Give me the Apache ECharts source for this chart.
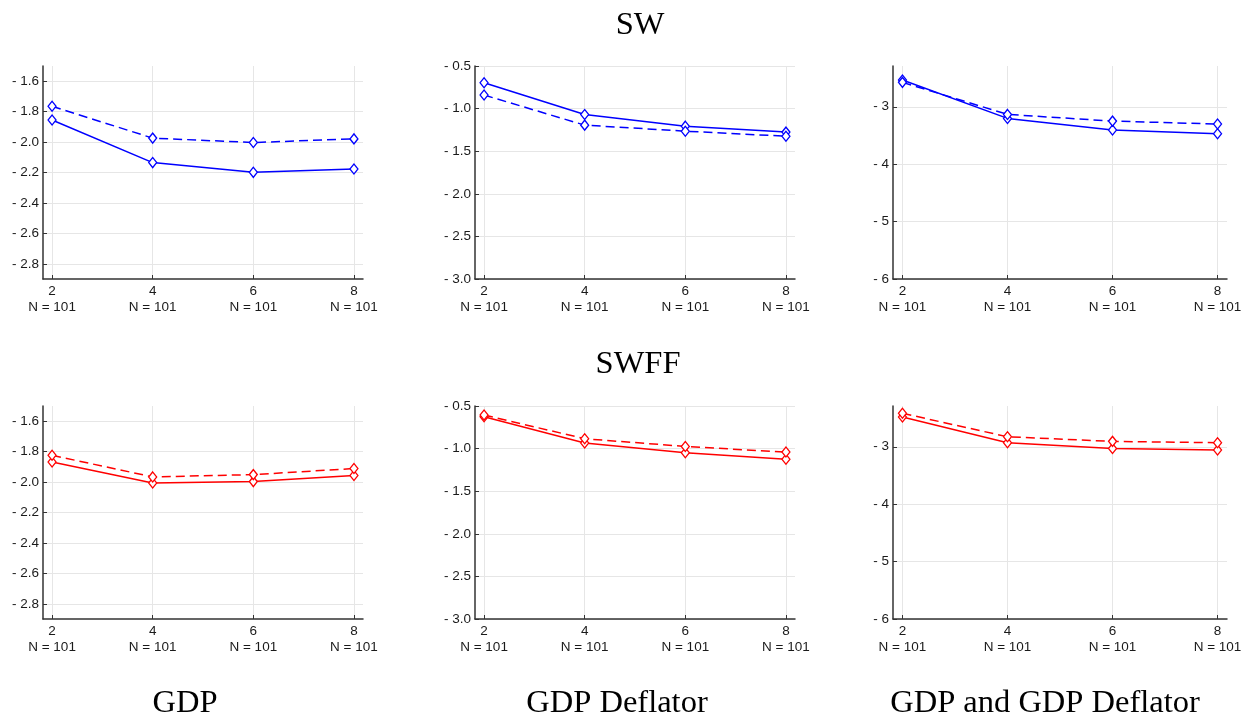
<!DOCTYPE html>
<html><head><meta charset="utf-8">
<script src="https://cdn.jsdelivr.net/npm/echarts@6/dist/echarts.min.js"></script>
<style>html,body{margin:0;padding:0;background:#fff}#c{width:1243px;height:715px}</style>
</head><body><div id="c"></div>
<script>
// ---- data ----
const horizons = [2, 4, 6, 8];
const nLabels = ["N = 101", "N = 101", "N = 101", "N = 101"];
const rowTitles = ["SW", "SWFF"];
const colTitles = ["GDP", "GDP Deflator", "GDP and GDP Deflator"];

// SW row (blue)
const swGdpSolid   = [-1.855, -2.135, -2.199, -2.177];
const swGdpDashed  = [-1.765, -1.974, -2.003, -1.979];
const swDeflSolid  = [-0.696, -1.069, -1.206, -1.276];
const swDeflDashed = [-0.841, -1.194, -1.265, -1.324];
const swBothSolid  = [-2.535, -3.203, -3.406, -3.470];
const swBothDashed = [-2.575, -3.133, -3.250, -3.300];

// SWFF row (red)
const ffGdpSolid   = [-1.868, -2.006, -1.997, -1.957];
const ffGdpDashed  = [-1.824, -1.966, -1.951, -1.911];
const ffDeflSolid  = [-0.626, -0.935, -1.049, -1.124];
const ffDeflDashed = [-0.606, -0.884, -0.975, -1.041];
const ffBothSolid  = [-2.482, -2.930, -3.030, -3.058];
const ffBothDashed = [-2.417, -2.826, -2.906, -2.930];

// tick labels
const yTicksGdp  = [-2.8, -2.6, -2.4, -2.2, -2.0, -1.8, -1.6];
const yTicksDefl = [-3.0, -2.5, -2.0, -1.5, -1.0, -0.5];
const yTicksBoth = [-6, -5, -4, -3];

// ---- layout ----
const colGeom = [
  {left: 43, width: 320},
  {left: 475, width: 320},
  {left: 893, width: 334}
];
const rowGeom = [{top: 66, height: 213}, {top: 406, height: 213}];
const colY = [
  {min: -2.9, max: -1.5, ticks: yTicksGdp, dec: 1},
  {min: -3.0, max: -0.5, ticks: yTicksDefl, dec: 1},
  {min: -6.0, max: -2.29, ticks: yTicksBoth, dec: 0}
];
const rowColors = ["#0000ff", "#ff0000"];
const rowData = [
  [[swGdpSolid, swGdpDashed], [swDeflSolid, swDeflDashed], [swBothSolid, swBothDashed]],
  [[ffGdpSolid, ffGdpDashed], [ffDeflSolid, ffDeflDashed], [ffBothSolid, ffBothDashed]]
];

const axisCol = "#333333";
const gridCol = "#e6e6e6";
const labelFont = "Liberation Sans";

const grids = [], xAxes = [], yAxes = [], series = [];
let gi = 0;
for (let r = 0; r < 2; r++) {
  for (let c = 0; c < 3; c++) {
    grids.push({left: colGeom[c].left, width: colGeom[c].width, top: rowGeom[r].top, height: rowGeom[r].height,
      containLabel: false, outerBoundsMode: 'none'});
    xAxes.push({
      type: 'value', gridIndex: gi, min: 1.82, max: 8.18,
      axisLine: {show: true, onZero: false, lineStyle: {color: axisCol, width: 1.5}},
      axisTick: {show: true, inside: true, length: 4, customValues: horizons, lineStyle: {color: axisCol, width: 1}},
      axisLabel: {show: true, customValues: horizons, margin: 4, fontSize: 13.5, lineHeight: 16.5, color: '#1a1a1a',
        fontFamily: labelFont,
        formatter: v => { const i = horizons.indexOf(Math.round(v)); return Math.round(v) + "\n" + nLabels[i]; }},
      splitLine: {show: true, lineStyle: {color: gridCol, width: 1}}
    });
    const yc = colY[c];
    yAxes.push({
      type: 'value', gridIndex: gi, min: yc.min, max: yc.max,
      axisLine: {show: true, onZero: false, lineStyle: {color: axisCol, width: 1.5}},
      axisTick: {show: true, inside: true, length: 4, customValues: yc.ticks, lineStyle: {color: axisCol, width: 1}},
      axisLabel: {show: true, customValues: yc.ticks, margin: 4, fontSize: 13.5, color: '#1a1a1a', fontFamily: labelFont,
        formatter: v => "- " + Math.abs(v).toFixed(yc.dec)},
      splitLine: {show: true, lineStyle: {color: gridCol, width: 1}}
    });
    const [solid, dashed] = rowData[r][c];
    const col = rowColors[r];
    const mk = (vals, type) => ({
      type: 'line', xAxisIndex: gi, yAxisIndex: gi,
      data: horizons.map((h, i) => [h, vals[i]]),
      symbol: 'diamond', symbolSize: [8, 10], showSymbol: true,
      lineStyle: {color: col, width: 1.5, type: type},
      itemStyle: {color: '#ffffff', borderColor: col, borderWidth: 1.3},
      emphasis: {disabled: true}, animation: false, silent: true
    });
    series.push(mk(solid, 'solid'));
    series.push(mk(dashed, [9, 5]));
    gi++;
  }
}

const titleFont = '32.5px "Liberation Serif", "DejaVu Serif", serif';
const graphics = [
  {type: 'text', x: 640, y: 25, style: {text: rowTitles[0], font: titleFont, fill: '#000', align: 'center', verticalAlign: 'middle'}},
  {type: 'text', x: 638, y: 364, style: {text: rowTitles[1], font: titleFont, fill: '#000', align: 'center', verticalAlign: 'middle'}},
  {type: 'text', x: 185, y: 703, style: {text: colTitles[0], font: titleFont, fill: '#000', align: 'center', verticalAlign: 'middle'}},
  {type: 'text', x: 617, y: 703, style: {text: colTitles[1], font: titleFont, fill: '#000', align: 'center', verticalAlign: 'middle'}},
  {type: 'text', x: 1045, y: 703, style: {text: colTitles[2], font: titleFont, fill: '#000', align: 'center', verticalAlign: 'middle'}}
];

const chart = echarts.init(document.getElementById('c'), null, {renderer: 'canvas'});
chart.setOption({
  animation: false,
  backgroundColor: '#ffffff',
  grid: grids, xAxis: xAxes, yAxis: yAxes, series: series,
  graphic: graphics
});
</script></body></html>
